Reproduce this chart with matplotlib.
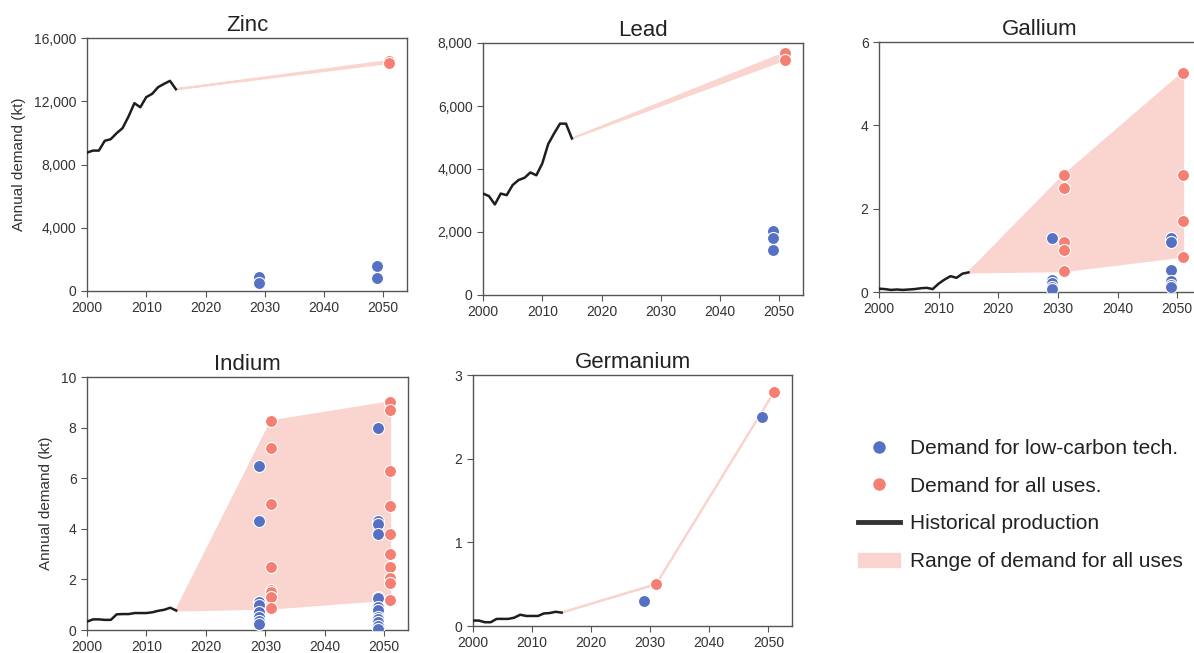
import matplotlib
matplotlib.use("Agg")
import matplotlib.pyplot as plt
from matplotlib.lines import Line2D
from matplotlib.patches import Patch
from matplotlib.ticker import FuncFormatter

plt.rcParams['font.family'] = ['Liberation Sans', 'DejaVu Sans']

hist_years = list(range(2000, 2016))
scen_years = [2030, 2050]

# Historical production
zinc_hist = [8750, 8880, 8880, 9500, 9600, 9980, 10300, 11030, 11880, 11620,
             12260, 12470, 12890, 13100, 13290, 12760]
lead_hist = [3220, 3140, 2875, 3220, 3170, 3490, 3650, 3720, 3890, 3800,
             4175, 4790, 5130, 5440, 5440, 4970]
gallium_hist = [0.08, 0.07, 0.05, 0.06, 0.05, 0.06, 0.07, 0.09, 0.1, 0.07,
                0.2, 0.3, 0.38, 0.34, 0.44, 0.47]
indium_hist = [0.33, 0.42, 0.42, 0.4, 0.4, 0.62, 0.63, 0.63, 0.67, 0.67,
               0.67, 0.7, 0.76, 0.8, 0.88, 0.77]
germanium_hist = [0.065, 0.065, 0.045, 0.045, 0.085, 0.085, 0.085, 0.1, 0.135, 0.12,
                  0.12, 0.12, 0.15, 0.155, 0.17, 0.16]

# Demand for low-carbon tech (2030, 2050)
zinc_low_2030 = [865, 485]
zinc_low_2050 = [1580, 845]
lead_low_2030 = []
lead_low_2050 = [2040, 1820, 1430]
gallium_low_2030 = [1.3, 0.3, 0.22, 0.12, 0.08]
gallium_low_2050 = [1.3, 1.2, 0.53, 0.27, 0.17, 0.12]
indium_low_2030 = [6.5, 4.3, 1.1, 1.0, 0.7, 0.5, 0.35, 0.25]
indium_low_2050 = [8.0, 4.3, 4.2, 3.8, 1.3, 1.25, 0.9, 0.8, 0.5, 0.45, 0.3, 0.15, 0.05]
germanium_low_2030 = [0.3]
germanium_low_2050 = [2.5]

# Demand for all uses (2030, 2050)
zinc_all_2030 = []
zinc_all_2050 = [14550, 14420]
lead_all_2030 = []
lead_all_2050 = [7685, 7475]
gallium_all_2030 = [2.8, 2.5, 1.2, 1.0, 0.5]
gallium_all_2050 = [5.26, 2.8, 1.7, 0.85]
indium_all_2030 = [8.25, 7.2, 5.0, 2.5, 1.6, 1.5, 1.3, 0.85]
indium_all_2050 = [9.0, 8.7, 6.3, 4.9, 3.8, 3.0, 2.5, 2.05, 1.85, 1.2]
germanium_all_2030 = [0.5]
germanium_all_2050 = [2.8]

titles = ["Zinc", "Lead", "Gallium", "Indium", "Germanium"]
y_maxes = [16000, 8000, 6, 10, 3]
y_steps = [4000, 2000, 2, 2, 1]

panels = [
    (zinc_hist, zinc_low_2030, zinc_low_2050, zinc_all_2030, zinc_all_2050),
    (lead_hist, lead_low_2030, lead_low_2050, lead_all_2030, lead_all_2050),
    (gallium_hist, gallium_low_2030, gallium_low_2050, gallium_all_2030, gallium_all_2050),
    (indium_hist, indium_low_2030, indium_low_2050, indium_all_2030, indium_all_2050),
    (germanium_hist, germanium_low_2030, germanium_low_2050, germanium_all_2030, germanium_all_2050),
]

W, H = 1194, 653
positions_px = [
    (87, 38, 320, 253),
    (483, 43, 320, 252),
    (879, 42, 322, 250),
    (87, 377, 321, 253),
    (473, 375, 319, 251),
]

BLUE = '#5671c4'
RED = '#f47f72'
FILL = '#fad4ce'
SPINE = '#555555'

fig = plt.figure(figsize=(W / 100, H / 100), dpi=100)

for i, (title, data, pos) in enumerate(zip(titles, panels, positions_px)):
    hist, low30, low50, all30, all50 = data
    l, t, w, h = pos
    ax = fig.add_axes([l / W, 1 - (t + h) / H, w / W, h / H])

    off = 1
    # fill polygon of range of demand for all uses
    fx = [hist_years[-1]]
    fy = [hist[-1]]
    top_x, top_y, bot_x, bot_y = [], [], [], []
    for yr, vals in zip(scen_years, [all30, all50]):
        if vals:
            top_x.append(yr + off); top_y.append(max(vals))
            bot_x.append(yr + off); bot_y.append(min(vals))
    fx = fx + top_x + bot_x[::-1]
    fy = fy + top_y + bot_y[::-1]
    ax.fill(fx, fy, facecolor=FILL, edgecolor=FILL, linewidth=1.5, zorder=1)

    ax.plot(hist_years, hist, color='#1e1e1e', lw=1.8, zorder=3)

    for yr, vals in zip(scen_years, [low30, low50]):
        if vals:
            ax.scatter([yr - off] * len(vals), vals, s=75, color=BLUE,
                       edgecolor='white', linewidth=0.8, zorder=4)
    for yr, vals in zip(scen_years, [all30, all50]):
        if vals:
            ax.scatter([yr + off] * len(vals), vals, s=75, color=RED,
                       edgecolor='white', linewidth=0.8, zorder=4)

    ax.set_xlim(2000, 2054)
    ax.set_ylim(0, y_maxes[i])
    ax.set_xticks(range(2000, 2051, 10))
    ax.set_yticks([k * y_steps[i] for k in range(int(y_maxes[i] / y_steps[i]) + 1)])
    if y_maxes[i] >= 1000:
        ax.yaxis.set_major_formatter(FuncFormatter(lambda v, p: f"{int(v):,}"))
    ax.tick_params(labelsize=10, colors='#333333', length=4, width=0.8, color=SPINE)
    for sp in ax.spines.values():
        sp.set_color(SPINE)
        sp.set_linewidth(1.0)
    ax.set_title(title, fontsize=16, color='#222222', pad=5)
    if i in (0, 3):
        ax.set_ylabel("Annual demand (kt)", fontsize=11, color='#333333', labelpad=6)

handles = [
    Line2D([], [], marker='o', linestyle='none', markersize=10, markerfacecolor=BLUE,
           markeredgecolor='white'),
    Line2D([], [], marker='o', linestyle='none', markersize=10, markerfacecolor=RED,
           markeredgecolor='white'),
    Line2D([], [], color='#333333', lw=3.5),
    Patch(facecolor=FILL, edgecolor=FILL),
]
labels = ["Demand for low-carbon tech.", "Demand for all uses.",
          "Historical production", "Range of demand for all uses"]
fig.legend(handles, labels, loc='center left', bbox_to_anchor=(858 / W, 1 - 505 / H),
           frameon=False, fontsize=15, handletextpad=0.5, labelspacing=0.9,
           borderaxespad=0, borderpad=0, handlelength=2.0, labelcolor='#222222')

fig.savefig("out.png", dpi=100)
